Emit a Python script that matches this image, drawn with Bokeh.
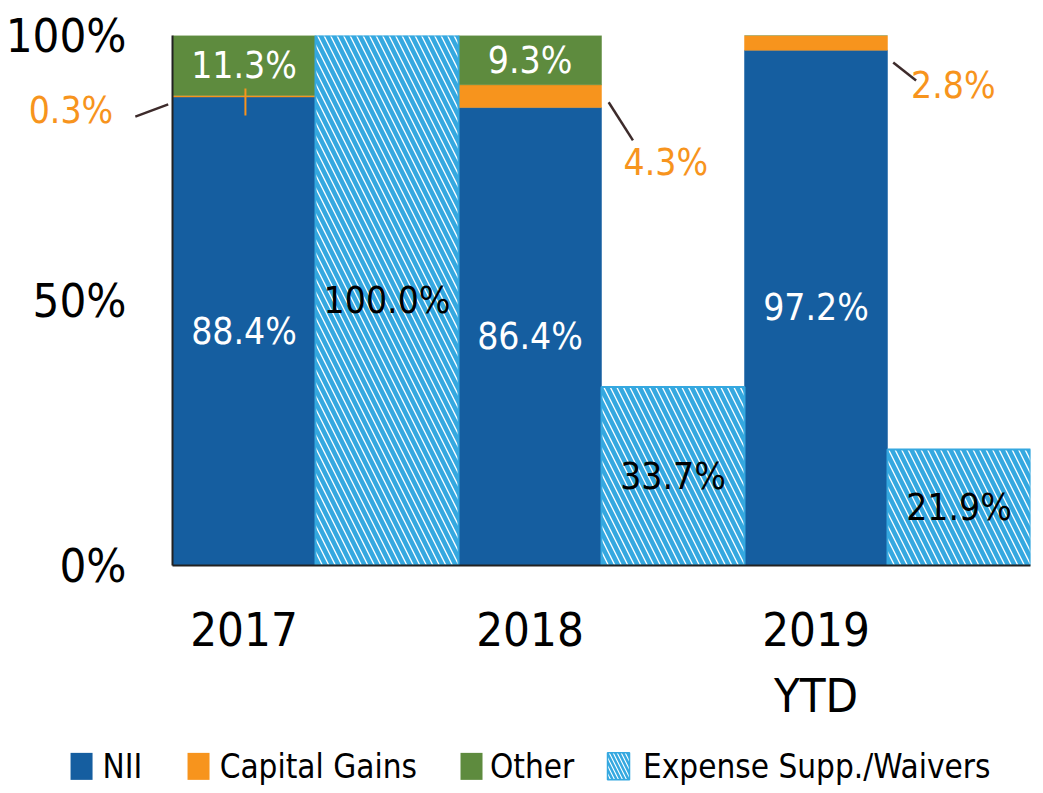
from bokeh.plotting import figure
from bokeh.models import ColumnDataSource, FixedTicker, Range1d
from bokeh.core.properties import value
from bokeh.embed import file_html
from bokeh.resources import INLINE

# ---------------- data ----------------
years = ["2017", "2018", "2019\nYTD"]
nii = [88.4, 86.4, 97.2]
cap_gains = [0.3, 4.3, 2.8]
other = [11.3, 9.3, 0.0]
expense = [100.0, 33.7, 21.9]
series_names = ["NII", "Capital Gains", "Other", "Expense Supp./Waivers"]
y_ticks = [0, 50, 100]
y_tick_labels = ["0%", "50%", "100%"]

# ---------------- style ----------------
FONT = "DejaVu Sans Condensed"
C_NII = "#155EA0"
C_CG = "#F7941D"
C_OTHER = "#5E8B3E"
C_HATCH = "#35A8E0"
C_LEADER = "#3D2B2B"

n = len(years)
x_main = [2 * i + 0.5 for i in range(n)]
x_exp = [2 * i + 1.5 for i in range(n)]

src = ColumnDataSource(dict(x=x_main, nii=nii, cg=cap_gains, other=other))
src_exp = ColumnDataSource(dict(x=x_exp, top=expense))

p = figure(width=1035, height=790, x_range=Range1d(0, 2 * n), y_range=Range1d(0, 100),
           output_backend="svg", toolbar_location=None,
           min_border_left=172, min_border_right=5, min_border_top=35, min_border_bottom=225)
p.outline_line_color = None
p.xgrid.visible = False
p.ygrid.visible = False

stack = p.vbar_stack(["nii", "cg", "other"], x="x", width=1.0, source=src,
                     fill_color=[C_NII, C_CG, C_OTHER], line_color=[C_NII, C_CG, C_OTHER],
                     line_width=0.5)
r_exp = p.vbar(x="x", top="top", width=1.0, source=src_exp, fill_color="white",
               line_color=C_HATCH, line_width=2, hatch_pattern="\\", hatch_color=C_HATCH,
               hatch_scale=13, hatch_weight=4.5)

LBL = "37px"
# in-bar labels
nii_lab = ColumnDataSource(dict(x=x_main, y=[v / 2 for v in nii], t=[f"{v:.1f}%" for v in nii]))
p.text(x="x", y="y", text="t", source=nii_lab, text_color="white", text_font=value(FONT),
       text_font_size=LBL, text_align="center", text_baseline="middle")

ox, oy, ot = [], [], []
for xi, a, b, c in zip(x_main, nii, cap_gains, other):
    if c > 0:
        ox.append(xi); oy.append(a + b + c / 2); ot.append(f"{c:.1f}%")
p.text(x=ox, y=oy, text=ot, text_color="white", text_font=value(FONT),
       text_font_size=LBL, text_align="center", text_baseline="middle")

exp_lab = ColumnDataSource(dict(x=x_exp, y=[v / 2 for v in expense], t=[f"{v:.1f}%" for v in expense]))
p.text(x="x", y="y", text="t", source=exp_lab, text_color="black", text_font=value(FONT),
       text_font_size=LBL, text_align="center", text_baseline="middle")

# capital gains call-outs (label position, leader line start/end) in data units
callout_x = [-0.71, 3.45, 5.46]
callout_y = [85.8, 76.0, 90.6]
lead_x0 = [-0.26, 3.05, 5.04]
lead_y0 = [84.7, 87.4, 94.9]
lead_x1 = [-0.03, 3.22, 5.20]
lead_y1 = [87.0, 80.2, 91.5]
p.text(x=callout_x, y=callout_y, text=[f"{v:.1f}%" for v in cap_gains], text_color=C_CG,
       text_font=value(FONT), text_font_size=LBL, text_align="center",
       text_baseline="middle", level="overlay")
p.segment(x0=lead_x0, y0=lead_y0, x1=lead_x1, y1=lead_y1, line_color=C_LEADER,
          line_width=2.5, level="overlay")
# small marker of the thin 2017 capital-gains slice
p.segment(x0=[x_main[0] + 0.01], y0=[nii[0] - 3.5], x1=[x_main[0] + 0.01], y1=[nii[0] + 1.6],
          line_color=C_CG, line_width=2)

# axes
p.yaxis.ticker = FixedTicker(ticks=y_ticks)
p.yaxis.major_label_overrides = {t: l for t, l in zip(y_ticks, y_tick_labels)}
p.xaxis.ticker = FixedTicker(ticks=x_main)
p.xaxis.major_label_overrides = {t: l for t, l in zip(x_main, years)}
for ax in (p.xaxis[0], p.yaxis[0]):
    ax.major_label_text_font = FONT
    ax.major_label_text_font_size = "47px"
    ax.major_label_text_color = "black"
    ax.major_tick_line_color = None
    ax.minor_tick_line_color = None
    ax.axis_line_color = "#222222"
    ax.axis_line_width = 2
p.yaxis.major_label_standoff = 40
p.xaxis.major_label_standoff = 30

# legend (drawn below the axis, outside the plotting frame)
leg_swatch_x = [-0.636, 0.182, 2.091, 3.119]
leg_text_x = [-0.49, 0.33, 2.22, 3.29]
leg_y = -37.9
p.rect(x=leg_swatch_x[:3], y=[leg_y] * 3, width=22, height=27, width_units="screen",
       height_units="screen", fill_color=[C_NII, C_CG, C_OTHER], line_color=None, level="overlay")
p.rect(x=leg_swatch_x[3:], y=[leg_y], width=22, height=27, width_units="screen",
       height_units="screen", fill_color="white", line_color=C_HATCH, line_width=1.5,
       hatch_pattern="\\", hatch_color=C_HATCH, hatch_scale=8, hatch_weight=2.5, level="overlay")
p.text(x=leg_text_x, y=[leg_y] * 4, text=series_names, text_color="black",
       text_font=value(FONT), text_font_size="33px", text_align="left",
       text_baseline="middle", level="overlay")

open("out.html", "w").write(file_html(p, INLINE))
